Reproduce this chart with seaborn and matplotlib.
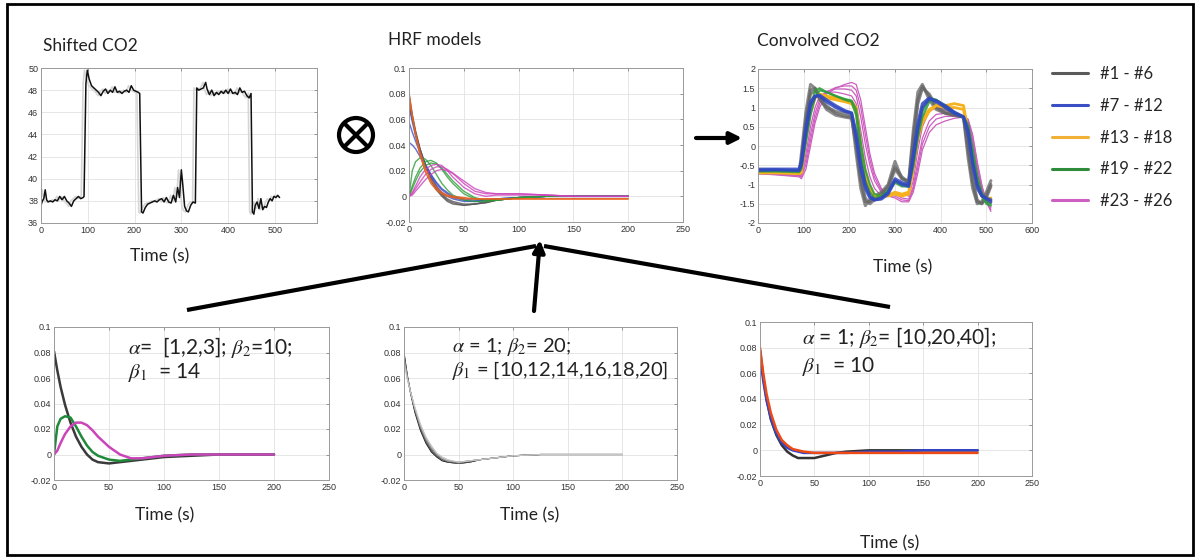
import numpy as np
import pandas as pd
import seaborn as sns
import matplotlib.pyplot as plt
from matplotlib.patches import Circle, Rectangle
from matplotlib.lines import Line2D

W, H = 1198, 557

# ---------------- data ----------------
# shifted CO2 trace (black) ; the grey one underneath is the raw trace a few s earlier
co2_time = [0, 3, 6, 9, 12, 15, 20, 25, 30, 35,
            40, 45, 50, 55, 60, 65, 70, 75, 80, 85,
            90, 92, 96, 99, 103, 108, 113, 118, 123, 128,
            133, 138, 143, 148, 153, 158, 163, 168, 173, 178,
            183, 188, 193, 198, 203, 208, 211, 215, 218, 223,
            228, 233, 238, 243, 248, 253, 258, 263, 268, 273,
            278, 283, 288, 292, 296, 300, 303, 307, 311, 315,
            320, 325, 330, 333, 337, 342, 347, 352, 355, 360,
            365, 370, 375, 380, 385, 390, 395, 400, 405, 410,
            415, 420, 425, 430, 435, 440, 445, 449, 452, 455,
            458, 462, 466, 470, 474, 478, 482, 486, 490, 494,
            498, 502, 506, 510]
co2_value = [37.6, 38.0, 38.2, 39.0, 38.1, 37.9, 38.0, 37.9, 38.1, 38.0,
             38.4, 38.1, 38.4, 38.0, 37.8, 37.5, 38.0, 38.2, 38.4, 38.2,
             38.3, 38.4, 48.6, 49.8, 49.0, 48.4, 48.2, 48.0, 47.8, 47.5,
             47.9, 48.1, 47.7, 48.0, 47.8, 48.3, 47.8, 47.9, 47.7, 47.9,
             48.0, 47.8, 48.4, 48.0, 47.9, 47.8, 47.7, 37.0, 36.9, 37.4,
             37.7, 37.8, 37.9, 38.0, 37.9, 38.1, 38.2, 37.9, 38.3, 37.9,
             37.8, 38.5, 37.9, 39.2, 38.3, 40.8, 39.5, 37.5, 37.1, 37.0,
             37.6, 37.9, 37.8, 48.2, 48.0, 48.1, 48.2, 48.7, 48.1, 47.6,
             48.0, 47.5, 47.8, 47.6, 47.9, 47.7, 48.0, 47.7, 48.1, 47.7,
             47.8, 47.6, 48.2, 47.8, 47.9, 47.5, 47.3, 47.7, 37.0, 36.8,
             37.6, 37.9, 37.3, 38.2, 37.2, 37.5, 37.4, 37.9, 38.2, 38.0,
             38.4, 38.3, 38.5, 38.3]
raw_shift = 6

# HRF curves, sampled at hrf_t
hrf_t = [0, 3, 6, 10, 15, 20, 25, 30, 35, 40, 50, 60, 70, 80, 100, 125, 150, 200]

hrf_gray = [
    [0.080, 0.064, 0.051, 0.037, 0.023, 0.012, 0.005, 0.000, -0.004, -0.006, -0.007, -0.006, -0.005, -0.003, -0.001, 0, 0, 0],
    [0.076, 0.062, 0.050, 0.037, 0.024, 0.014, 0.006, 0.001, -0.003, -0.005, -0.007, -0.006, -0.005, -0.003, -0.001, 0, 0, 0],
    [0.072, 0.060, 0.049, 0.037, 0.025, 0.015, 0.008, 0.002, -0.002, -0.004, -0.006, -0.006, -0.004, -0.003, -0.001, 0, 0, 0],
]
hrf_blue = [
    [0.070, 0.058, 0.047, 0.035, 0.024, 0.015, 0.008, 0.003, 0.000, -0.002, -0.004, -0.004, -0.003, -0.002, -0.001, 0, 0, 0],
    [0.058, 0.050, 0.043, 0.034, 0.025, 0.017, 0.010, 0.005, 0.002, -0.001, -0.003, -0.004, -0.003, -0.002, -0.001, 0, 0, 0],
    [0.042, 0.040, 0.037, 0.031, 0.024, 0.017, 0.011, 0.006, 0.003, 0.000, -0.002, -0.003, -0.003, -0.002, -0.001, 0, 0, 0],
]
hrf_orange = [
    [0.081, 0.063, 0.048, 0.032, 0.019, 0.010, 0.005, 0.002, 0.000, -0.001, -0.002, -0.002, -0.002, -0.002, -0.002, -0.002, -0.002, -0.002],
    [0.078, 0.062, 0.049, 0.035, 0.022, 0.013, 0.007, 0.003, 0.001, 0.000, -0.001, -0.002, -0.002, -0.002, -0.002, -0.002, -0.002, -0.002],
]
hrf_green = [
    [0.000, 0.020, 0.027, 0.030, 0.029, 0.024, 0.017, 0.010, 0.005, 0.001, -0.003, -0.004, -0.004, -0.003, -0.001, 0, 0, 0],
    [0.000, 0.008, 0.015, 0.022, 0.027, 0.028, 0.026, 0.021, 0.015, 0.010, 0.002, -0.002, -0.003, -0.003, -0.001, 0, 0, 0],
    [0.000, 0.006, 0.012, 0.019, 0.024, 0.026, 0.025, 0.022, 0.017, 0.012, 0.004, -0.001, -0.003, -0.003, -0.001, 0, 0, 0],
]
hrf_magenta = [
    [0.000, 0.003, 0.008, 0.015, 0.021, 0.024, 0.025, 0.024, 0.020, 0.015, 0.007, 0.002, 0.000, 0.001, 0.001, 0.001, 0, 0],
    [0.000, 0.002, 0.006, 0.011, 0.017, 0.021, 0.023, 0.023, 0.021, 0.018, 0.010, 0.004, 0.002, 0.002, 0.002, 0.001, 0, 0],
    [0.000, 0.001, 0.004, 0.008, 0.013, 0.017, 0.020, 0.021, 0.020, 0.018, 0.012, 0.006, 0.003, 0.002, 0.002, 0.001, 0, 0],
]

# bottom row: alpha = [1,2,3]
alpha_curves = [
    [0.081, 0.066, 0.053, 0.039, 0.025, 0.014, 0.006, 0.000, -0.004, -0.006, -0.007, -0.006, -0.005, -0.004, -0.002, -0.001, 0, 0],
    [0.000, 0.022, 0.028, 0.030, 0.029, 0.022, 0.014, 0.007, 0.002, -0.001, -0.004, -0.005, -0.004, -0.003, -0.001, 0, 0, 0],
    [0.000, 0.003, 0.009, 0.016, 0.022, 0.025, 0.025, 0.023, 0.019, 0.014, 0.006, 0.000, -0.003, -0.003, -0.001, 0, 0, 0],
]
alpha_colors = ['#3a3a3a', '#1f8a3a', '#cc44bb']

# bottom row: beta1 = 10..20
beta1_curves = [
    [0.080, 0.062, 0.048, 0.033, 0.019, 0.009, 0.002, -0.002, -0.005, -0.006, -0.007, -0.006, -0.004, -0.003, -0.001, 0, 0, 0],
    [0.079, 0.062, 0.049, 0.034, 0.020, 0.010, 0.003, -0.001, -0.004, -0.006, -0.007, -0.006, -0.004, -0.003, -0.001, 0, 0, 0],
    [0.077, 0.061, 0.049, 0.035, 0.021, 0.011, 0.004, -0.001, -0.004, -0.005, -0.007, -0.005, -0.004, -0.003, -0.001, 0, 0, 0],
    [0.076, 0.061, 0.049, 0.036, 0.022, 0.012, 0.005, 0.000, -0.003, -0.005, -0.006, -0.005, -0.004, -0.003, -0.001, 0, 0, 0],
    [0.074, 0.060, 0.049, 0.036, 0.023, 0.013, 0.006, 0.001, -0.003, -0.005, -0.006, -0.005, -0.004, -0.003, -0.001, 0, 0, 0],
    [0.072, 0.059, 0.049, 0.037, 0.024, 0.014, 0.007, 0.001, -0.002, -0.004, -0.006, -0.005, -0.004, -0.003, -0.001, 0, 0, 0],
]

# bottom row: beta2 = [10,20,40]
beta2_curves = [
    [0.078, 0.057, 0.040, 0.024, 0.012, 0.004, -0.001, -0.004, -0.006, -0.006, -0.006, -0.004, -0.002, -0.001, 0.000, 0, 0, 0],
    [0.074, 0.054, 0.039, 0.025, 0.013, 0.006, 0.002, 0.000, -0.001, -0.002, -0.002, -0.002, -0.002, -0.002, -0.001, -0.001, 0, 0],
    [0.080, 0.060, 0.044, 0.029, 0.016, 0.008, 0.004, 0.001, 0.000, -0.001, -0.002, -0.002, -0.002, -0.002, -0.002, -0.002, -0.002, -0.002],
]
beta2_colors = ['#333333', '#3344cc', '#ee4a14']

# convolved CO2 regressors
conv_t = [0, 40, 90, 95, 105, 115, 125, 135, 150, 170, 190, 205,
          215, 225, 235, 245, 255, 270, 285, 300, 315, 330, 340, 350,
          360, 375, 390, 410, 430, 450, 460, 470, 480, 490, 500, 510]
conv_gray = [
    [-0.65, -0.65, -0.70, -0.20, 0.90, 1.60, 1.50, 1.20, 1.00, 0.90, 0.85, 0.80,
     -0.20, -1.10, -1.55, -1.40, -1.30, -1.20, -1.00, -0.40, -0.85, -0.90, 0.40, 1.40,
     1.60, 1.20, 0.95, 0.85, 0.80, 0.75, -0.30, -1.10, -1.50, -1.45, -1.20, -0.90],
    [-0.68, -0.68, -0.72, -0.35, 0.70, 1.45, 1.50, 1.25, 0.95, 0.80, 0.75, 0.72,
     0.00, -0.90, -1.45, -1.45, -1.35, -1.25, -1.05, -0.55, -0.80, -0.95, 0.20, 1.20,
     1.55, 1.30, 1.00, 0.85, 0.80, 0.75, -0.10, -0.95, -1.45, -1.50, -1.30, -1.00],
    [-0.62, -0.63, -0.68, -0.40, 0.60, 1.35, 1.45, 1.30, 1.05, 0.85, 0.78, 0.75,
     0.10, -0.80, -1.35, -1.50, -1.40, -1.25, -1.10, -0.60, -0.85, -0.95, 0.10, 1.10,
     1.50, 1.35, 1.05, 0.90, 0.82, 0.76, 0.00, -0.85, -1.40, -1.50, -1.35, -1.05],
]
conv_blue = [
    [-0.60, -0.60, -0.60, -0.40, 0.50, 1.15, 1.30, 1.30, 1.15, 1.00, 0.90, 0.85,
     0.20, -0.60, -1.10, -1.35, -1.40, -1.35, -1.20, -0.85, -0.95, -1.00, -0.20, 0.60,
     1.10, 1.25, 1.15, 1.00, 0.85, 0.75, 0.30, -0.50, -1.10, -1.30, -1.35, -1.40],
    [-0.63, -0.62, -0.64, -0.50, 0.35, 1.05, 1.28, 1.32, 1.20, 1.05, 0.92, 0.86,
     0.35, -0.45, -1.00, -1.30, -1.40, -1.38, -1.25, -0.90, -1.00, -1.05, -0.35, 0.45,
     1.00, 1.22, 1.18, 1.05, 0.88, 0.76, 0.40, -0.40, -1.00, -1.28, -1.38, -1.45],
]
conv_yellow = [
    [-0.70, -0.70, -0.72, -0.70, 0.20, 0.90, 1.25, 1.35, 1.30, 1.25, 1.20, 1.15,
     1.00, 0.00, -0.70, -1.10, -1.30, -1.30, -1.30, -1.25, -1.30, -1.25, -0.60, 0.20,
     0.60, 0.90, 1.05, 1.05, 1.10, 1.05, 0.40, -0.40, -1.00, -1.30, -1.40, -1.40],
    [-0.68, -0.68, -0.70, -0.65, 0.30, 1.00, 1.28, 1.32, 1.25, 1.20, 1.15, 1.10,
     0.90, -0.10, -0.80, -1.15, -1.30, -1.32, -1.28, -1.20, -1.25, -1.20, -0.50, 0.30,
     0.70, 0.95, 1.05, 1.00, 1.00, 0.95, 0.35, -0.45, -1.05, -1.30, -1.38, -1.35],
]
conv_green = [
    [-0.65, -0.65, -0.65, -0.50, 0.30, 1.00, 1.45, 1.50, 1.40, 1.30, 1.20, 1.15,
     0.80, -0.20, -0.90, -1.20, -1.35, -1.30, -1.15, -0.90, -1.00, -1.00, -0.40, 0.40,
     0.90, 1.25, 1.20, 1.00, 0.85, 0.75, 0.50, -0.20, -0.90, -1.30, -1.50, -1.55],
    [-0.66, -0.66, -0.68, -0.60, 0.10, 0.80, 1.25, 1.45, 1.40, 1.30, 1.22, 1.18,
     0.95, 0.10, -0.60, -1.00, -1.25, -1.30, -1.20, -0.95, -1.05, -1.05, -0.55, 0.20,
     0.75, 1.15, 1.20, 1.05, 0.88, 0.76, 0.55, -0.05, -0.75, -1.20, -1.45, -1.50],
]
conv_magenta = [
    [-0.70, -0.72, -0.75, -0.75, -0.20, 0.50, 1.00, 1.30, 1.40, 1.40, 1.35, 1.30,
     1.10, 0.40, -0.30, -0.80, -1.10, -1.30, -1.30, -1.20, -1.25, -1.30, -0.90, -0.10,
     0.50, 0.90, 1.00, 0.95, 0.85, 0.78, 0.60, 0.00, -0.70, -1.20, -1.40, -1.50],
    [-0.71, -0.73, -0.77, -0.78, -0.35, 0.30, 0.85, 1.20, 1.42, 1.48, 1.48, 1.45,
     1.30, 0.75, 0.05, -0.50, -0.90, -1.20, -1.30, -1.25, -1.35, -1.38, -1.05, -0.40,
     0.20, 0.65, 0.82, 0.85, 0.80, 0.77, 0.65, 0.15, -0.55, -1.10, -1.45, -1.60],
    [-0.72, -0.74, -0.78, -0.80, -0.48, 0.15, 0.72, 1.10, 1.40, 1.52, 1.56, 1.56,
     1.45, 1.00, 0.30, -0.35, -0.80, -1.15, -1.30, -1.30, -1.40, -1.42, -1.12, -0.55,
     0.05, 0.50, 0.70, 0.77, 0.77, 0.76, 0.68, 0.25, -0.45, -1.05, -1.45, -1.65],
    [-0.72, -0.75, -0.80, -0.85, -0.60, 0.00, 0.60, 1.00, 1.35, 1.50, 1.60, 1.65,
     1.60, 1.20, 0.50, -0.20, -0.70, -1.10, -1.30, -1.35, -1.45, -1.45, -1.20, -0.70,
     -0.10, 0.35, 0.55, 0.65, 0.72, 0.75, 0.70, 0.30, -0.40, -1.00, -1.45, -1.70],
]

legend_labels = ['#1 - #6', '#7 - #12', '#13 - #18', '#19 - #22', '#23 - #26']
group_colors = ['#5a5a5a', '#3b4fc4', '#f2b134', '#2e8b3a', '#cc5fbf']

hrf_yticks = [-0.02, 0, 0.02, 0.04, 0.06, 0.08, 0.1]
hrf_xticks = [0, 50, 100, 150, 200, 250]


# ---------------- helpers ----------------
def px_axes(fig, left, top, right, bottom):
    return fig.add_axes([left / W, 1 - bottom / H, (right - left) / W, (bottom - top) / H])


def style_axes(ax, xlim, xticks, ylim, yticks):
    ax.set_xlim(xlim)
    ax.set_ylim(ylim)
    ax.set_xticks(xticks)
    ax.set_yticks(yticks)
    ax.set_xticklabels([f'{v:g}' for v in xticks])
    ax.set_yticklabels([f'{v:g}' for v in yticks])
    ax.grid(True, color='#e2e2e2', lw=0.6)
    ax.tick_params(direction='in', length=2.5, width=0.6, color='#888888', labelcolor='#333333',
                   labelsize=6.5, pad=2, top=True, right=True)
    for sp in ax.spines.values():
        sp.set_color('#9a9a9a')
        sp.set_linewidth(0.7)
    ax.set_xlabel('')
    ax.set_ylabel('')


def draw_curves(ax, t, curves, color, lw, alpha=1.0):
    for c in curves:
        sns.lineplot(x=t, y=c, ax=ax, color=color, lw=lw, alpha=alpha, estimator=None, sort=False)


def label(fig, x, y, s, size=12.5, ha='center'):
    fig.text(x / W, 1 - y / H, s, ha=ha, va='center', fontsize=size, color='#222222',
             family=['Lato', 'DejaVu Sans'])


def main():
    sns.set_style('white')
    plt.rcParams['font.family'] = ['Liberation Sans', 'DejaVu Sans']
    plt.rcParams['mathtext.fontset'] = 'stix'

    fig = plt.figure(figsize=(W / 100, H / 100), dpi=100)

    # shifted CO2
    ax = px_axes(fig, 41, 68, 317, 223)
    sns.lineplot(x=np.array(co2_time) - raw_shift, y=co2_value, ax=ax, color='#d6d6d6', lw=1.2,
                 estimator=None, sort=False)
    sns.lineplot(x=co2_time, y=co2_value, ax=ax, color='#111111', lw=1.1, estimator=None, sort=False)
    style_axes(ax, (0, 590), [0, 100, 200, 300, 400, 500], (36, 50), list(range(36, 51, 2)))

    # HRF models
    ax = px_axes(fig, 409, 68, 683, 222)
    draw_curves(ax, hrf_t, hrf_gray, '#555555', 1.0, 0.8)
    draw_curves(ax, hrf_t, hrf_blue, '#3b4fc4', 1.0, 0.8)
    draw_curves(ax, hrf_t, hrf_green, '#2e9b3a', 1.0, 0.8)
    draw_curves(ax, hrf_t, hrf_magenta, '#cc44bb', 1.0, 0.8)
    draw_curves(ax, hrf_t, hrf_orange, '#e8601c', 1.0, 0.9)
    style_axes(ax, (0, 250), hrf_xticks, (-0.02, 0.1), hrf_yticks)

    # convolved CO2
    ax = px_axes(fig, 758, 69, 1032, 223)
    draw_curves(ax, conv_t, conv_magenta, group_colors[4], 0.9)
    draw_curves(ax, conv_t, conv_gray, '#666666', 2.2, 0.75)
    draw_curves(ax, conv_t, conv_yellow, '#f5b21e', 2.0)
    draw_curves(ax, conv_t, conv_green, '#2e9b3a', 1.6, 0.85)
    draw_curves(ax, conv_t, conv_blue, '#3048c0', 2.2, 0.85)
    style_axes(ax, (0, 600), [0, 100, 200, 300, 400, 500, 600], (-2, 2),
               [-2, -1.5, -1, -0.5, 0, 0.5, 1, 1.5, 2])

    # bottom: alpha
    ax = px_axes(fig, 54, 327, 329, 480)
    for c, col in zip(alpha_curves, alpha_colors):
        sns.lineplot(x=hrf_t, y=c, ax=ax, color=col, lw=1.8, estimator=None, sort=False)
    style_axes(ax, (0, 250), hrf_xticks, (-0.02, 0.1), hrf_yticks)

    # bottom: beta1
    ax = px_axes(fig, 404, 327, 677, 480)
    shades = sns.color_palette('Greys_r', n_colors=len(beta1_curves) + 2)
    for c, col in zip(beta1_curves, shades):
        sns.lineplot(x=hrf_t, y=c, ax=ax, color=col, lw=0.8, estimator=None, sort=False)
    style_axes(ax, (0, 250), hrf_xticks, (-0.02, 0.1), hrf_yticks)

    # bottom: beta2
    ax = px_axes(fig, 760, 322, 1032, 476)
    for c, col in zip(beta2_curves, beta2_colors):
        sns.lineplot(x=hrf_t, y=c, ax=ax, color=col, lw=1.8, estimator=None, sort=False)
    style_axes(ax, (0, 250), hrf_xticks, (-0.02, 0.1), hrf_yticks)

    # titles and labels
    label(fig, 43, 46, 'Shifted CO2', ha='left')
    label(fig, 388, 40, 'HRF models', ha='left')
    label(fig, 757, 41, 'Convolved CO2', ha='left')
    label(fig, 160, 256, 'Time (s)')
    label(fig, 903, 267, 'Time (s)')
    label(fig, 165, 515, 'Time (s)')
    label(fig, 530, 515, 'Time (s)')
    label(fig, 890, 543, 'Time (s)')

    label(fig, 128, 347, r'$\alpha$=  [1,2,3]; $\beta_2$=10;', size=15, ha='left')
    label(fig, 128, 373, r'$\beta_1$  = 14', size=15, ha='left')
    label(fig, 452, 347, r'$\alpha$ = 1; $\beta_2$= 20;', size=14.5, ha='left')
    label(fig, 452, 371, r'$\beta_1$ = [10,12,14,16,18,20]', size=14.5, ha='left')
    label(fig, 802, 338, r'$\alpha$ = 1; $\beta_2$= [10,20,40];', size=15, ha='left')
    label(fig, 802, 366, r'$\beta_1$  = 10', size=15, ha='left')

    # legend
    handles = [Line2D([], [], color=c, lw=2.2) for c in group_colors]
    fig.legend(handles, legend_labels, loc='upper left', bbox_to_anchor=(1037 / W, 1 - 51 / H),
               frameon=False, handlelength=2.15, handletextpad=0.75, labelspacing=0.95,
               prop={'family': ['Lato', 'DejaVu Sans'], 'size': 12})

    # overlay: frame, arrows, convolution sign (pixel coordinates)
    ov = fig.add_axes([0, 0, 1, 1], zorder=5)
    ov.set_xlim(0, W)
    ov.set_ylim(H, 0)
    ov.axis('off')
    ov.add_patch(Rectangle((7, 4), 1186, 551, fill=False, lw=2, edgecolor='black'))
    ov.add_patch(Circle((356, 135), 17, fill=False, lw=3, edgecolor='black'))
    ov.plot([344, 368], [123, 147], color='black', lw=3, solid_capstyle='butt')
    ov.plot([344, 368], [147, 123], color='black', lw=3, solid_capstyle='butt')
    ov.annotate('', xy=(742, 138), xytext=(696, 138),
                arrowprops=dict(arrowstyle='-|>,head_length=0.7,head_width=0.35', lw=3, color='black',
                                shrinkA=0, shrinkB=0))
    ov.plot([187, 536], [310, 246], color='black', lw=3, solid_capstyle='butt')
    ov.plot([890, 544], [307, 246], color='black', lw=3, solid_capstyle='butt')
    ov.annotate('', xy=(540, 240), xytext=(534, 311),
                arrowprops=dict(arrowstyle='-|>,head_length=0.7,head_width=0.35', lw=3, color='black',
                                shrinkA=0, shrinkB=0))

    fig.savefig('out.png', dpi=100)


if __name__ == '__main__':
    main()
